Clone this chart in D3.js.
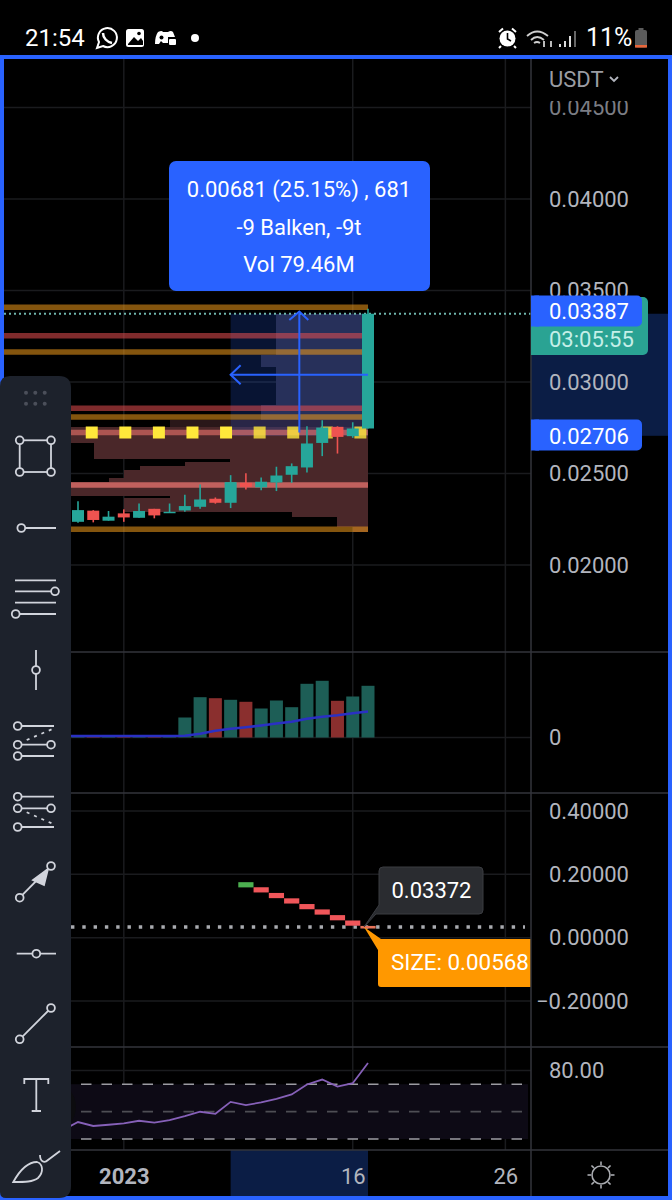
<!DOCTYPE html>
<html><head><meta charset="utf-8">
<script src="https://cdn.jsdelivr.net/npm/d3@7/dist/d3.min.js"></script>
<style>
html,body{margin:0;padding:0;background:#000;}
svg{display:block;font-family:Roboto,sans-serif;}
</style></head><body><svg id="c" width="672" height="1200" viewBox="0 0 672 1200"></svg>
<script>
// ---------- data ----------
const days = d3.range(-2, 18);              // daily bars, day-of-January numbering
const opens  = [.02236,.02297,.02242,.02282,.02258,.02307,.02284,.02298,.02318,.02362,.02340,.02449,.02424,.02451,.02493,.02533,.02667,.02755,.02704,.02746];
const closes = [.02300,.02246,.02264,.02260,.02295,.02271,.02291,.02322,.02358,.02340,.02453,.02427,.02455,.02489,.02540,.02664,.02751,.02700,.02746,.03373];
const highs  = [.02349,.02300,.02295,.02304,.02336,.02307,.02336,.02384,.02440,.02369,.02491,.02502,.02478,.02537,.02555,.02758,.02791,.02758,.02780,.03400];
const lows   = [.02231,.02233,.02242,.02236,.02258,.02255,.02284,.02291,.02307,.02335,.02311,.02413,.02409,.02404,.02449,.02506,.02595,.02609,.02695,.02746];
const volumes= [.6,.6,.6,.6,.6,.6,.6,20,40.3,39.3,37.7,35.7,29,37,30.3,53.7,56.7,36.7,41,51.7];
const volMA  = [1.5,1.5,1.5,1.5,1.5,1.5,1.5,1.7,3.7,6.7,8.7,10.3,12,14,15.7,18.7,20.7,22.3,24.3,26];
const rsi    = [42.4,39.5,40.4,41.4,43.3,41.9,43.8,46.7,49.9,48.4,57.1,54.7,56.7,59.3,62.5,69.8,73.4,68.3,70.7,85.5];
const lineDays = d3.range(-3, 18);          // indicator lines also run in from the previous bar
const volMAPrev = 1.5, rsiPrev = 36.5;
const stepDays = [9,10,11,12,13,14,15,16,17];
const stepVals = [.167,.151,.133,.116,.098,.081,.063,.046,.033];
const priceTicks = [.045,.04,.035,.03,.025,.02];
const volTicks = [0];
const oscTicks = [.4,.2,0,-.2];
const rsiTicks = [80];
const rsiBands = [70,50,30];
const timeTicks = [1,16,26];
const timeLabels = ["2023","16","26"];
const yellowDays = [-1.1,1.1,3.3,5.5,7.7,9.9,12.1,14.3,16.5];
const yellowPrice = .02724;
const levels = [.03408,.03253,.03164,.02857,.02809,.02724,.02437,.02195];
const levelKinds = ["o","r","o","r","o","m","b","o"];
const profHi = [.03373,.03146,.03082,.02873,.02791,.02755,.02664,.02577,.02562,.02540,.02518,.02473,.02455,.02377,.02364,.02291,.02264,.02209];
const profLo = [.03146,.03082,.02873,.02791,.02755,.02664,.02577,.02562,.02540,.02518,.02473,.02455,.02377,.02364,.02291,.02264,.02209,.02180];
const profVol= [30.7,35.7,30.7,35.7,66,100,91.5,46,61,76,81.5,86.5,100,66,81.5,25.5,10.2,5];
const posTop = .03373, posBottom = .02706, posMid = .03040, posStartDay = 8;
const lastDay = 17;
const midDay = 12.5;

// ---------- scales ----------
const svg = d3.select("#c");
const PANE_R = 531;
const x = d3.scaleLinear().domain([-2,17]).range([78,368]);
const yP = d3.scaleLinear().domain([.02,.045]).range([565,107.5]);
const yV = d3.scaleLinear().domain([0,100]).range([737.5,637.5]);
const yO = d3.scaleLinear().domain([-.2,.4]).range([1001,811]);
const yR = d3.scaleLinear().domain([30,80]).range([1139,1070.5]);
const xProf = d3.scaleLinear().domain([0,100]).range([368,68]);

const UP="#26a69a", DN="#ef5350", BLUE="#2962ff", GRID="#1a1b1e", SEP="#33353b", TXT="#b2b5be";

// ---------- grid ----------
const grid = svg.append("g");
function hgrid(vals, s, x2=PANE_R){
  grid.selectAll(null).data(vals).join("line").attr("x1",4).attr("x2",x2)
    .attr("y1",d=>s(d)).attr("y2",d=>s(d)).attr("stroke",GRID).attr("stroke-width",1.5);
}
hgrid(priceTicks,yP); hgrid(volTicks,yV); hgrid(oscTicks,yO); hgrid(rsiTicks,yR);
grid.selectAll(null).data(timeTicks).join("line")
  .attr("x1",d=>x(d)).attr("x2",d=>x(d)).attr("y1",59).attr("y2",1150)
  .attr("stroke",GRID).attr("stroke-width",1.5);

// ---------- axis-side highlight bands ----------
svg.append("rect").attr("x",PANE_R).attr("width",138).attr("y",yP(posTop)).attr("height",yP(.02706)-yP(posTop)).attr("fill","#0b1d45");
svg.append("rect").attr("x",x(posStartDay)).attr("width",x(lastDay)-x(posStartDay)).attr("y",1150).attr("height",47).attr("fill","#0b1d45");

// ---------- volume profile ----------
svg.append("g").attr("shape-rendering","crispEdges").selectAll("rect").data(profVol).join("rect")
  .attr("x",d=>xProf(d)).attr("width",d=>368-xProf(d))
  .attr("y",(d,i)=>yP(profHi[i])).attr("height",(d,i)=>yP(profLo[i])-yP(profHi[i]))
  .attr("fill",(d,i)=> i<4 ? "#272331" : i==4 ? "#2a1719" : "#4a2729");

// ---------- position tool ----------
svg.append("rect").attr("x",x(posStartDay)).attr("width",x(lastDay)-x(posStartDay))
  .attr("y",yP(posTop)).attr("height",yP(.02706)-yP(posTop)).attr("fill",BLUE).attr("fill-opacity",.2);

// ---------- horizontal levels ----------
const levelCol = {o:"#f09a1a",r:"#e84f50",m:"#fd7c73",b:"#ff7f7a"};
const levelOp = {o:.55,r:.55,m:.55,b:.65};
svg.append("g").selectAll("line").data(levels).join("line")
  .attr("x1",4).attr("x2",368).attr("y1",d=>yP(d)).attr("y2",d=>yP(d))
  .attr("stroke",(d,i)=>levelCol[levelKinds[i]]).attr("stroke-opacity",(d,i)=>levelOp[levelKinds[i]]).attr("stroke-width",5.5);

// ---------- yellow markers ----------
svg.append("g").selectAll("rect").data(yellowDays).join("rect")
  .attr("x",d=>x(d)-6).attr("width",12).attr("y",yP(yellowPrice)-6).attr("height",12)
  .attr("fill","#ffe83b").attr("fill-opacity",d=>d>=posStartDay?.8:1);

// ---------- price line ----------
svg.append("line").attr("x1",4).attr("x2",PANE_R).attr("y1",yP(posTop)).attr("y2",yP(posTop))
  .attr("stroke","#6fb5ac").attr("stroke-width",2).attr("stroke-dasharray","2 3");

// ---------- candles ----------
const cg = svg.append("g");
cg.selectAll("line").data(days).join("line")
  .attr("x1",d=>x(d)).attr("x2",d=>x(d))
  .attr("y1",(d,i)=>yP(highs[i])).attr("y2",(d,i)=>yP(lows[i]))
  .attr("stroke",(d,i)=>closes[i]>=opens[i]?UP:DN).attr("stroke-width",1.6);
cg.selectAll("rect").data(days).join("rect")
  .attr("x",d=>x(d)-6).attr("width",12)
  .attr("y",(d,i)=>yP(Math.max(opens[i],closes[i])))
  .attr("height",(d,i)=>Math.max(1.5,Math.abs(yP(opens[i])-yP(closes[i]))))
  .attr("fill",(d,i)=>closes[i]>=opens[i]?UP:DN);

// ---------- position arrows ----------
const ax = x(midDay), ay = yP(posMid);
const ag = svg.append("g").attr("stroke",BLUE).attr("fill","none").attr("stroke-width",2);
ag.append("path").attr("d",d3.line()([[ax,yP(.02724)],[ax,yP(.03385)]]));
ag.append("path").attr("d",d3.line()([[ax-10,yP(.03385)+8.5],[ax,yP(.03385)],[ax+9,yP(.03385)+8.5]]));
ag.append("path").attr("d",d3.line()([[x(lastDay),ay],[x(posStartDay),ay]]));
ag.append("path").attr("d",d3.line()([[x(posStartDay)+10,ay-9.5],[x(posStartDay),ay],[x(posStartDay)+10,ay+9.5]]));

// ---------- tooltip ----------
svg.append("rect").attr("x",169).attr("y",161).attr("width",261).attr("height",130).attr("rx",7).attr("fill",BLUE);
const tipLines = ["0.00681 (25.15%) , 681","-9 Balken, -9t","Vol 79.46M"];
svg.append("g").selectAll("text").data(tipLines).join("text")
  .attr("x",299).attr("y",(d,i)=>197+i*37.5).attr("text-anchor","middle")
  .attr("fill","#fff").attr("font-size",22).text(d=>d);

// ---------- volume pane ----------
svg.append("g").selectAll("rect").data(days).join("rect")
  .attr("x",d=>x(d)-6.5).attr("width",13)
  .attr("y",(d,i)=>yV(volumes[i])).attr("height",(d,i)=>yV(0)-yV(volumes[i]))
  .attr("fill",(d,i)=>closes[i]>=opens[i]?"#1d5e56":"#8a2f2e");
svg.append("path").datum(lineDays)
  .attr("d",d3.line().x(d=>x(d)).y((d,i)=>yV(i==0?volMAPrev:volMA[i-1])))
  .attr("fill","none").attr("stroke","#2a30c4").attr("stroke-width",2.6);

// ---------- oscillator pane ----------
svg.append("line").attr("x1",71).attr("x2",525).attr("y1",927).attr("y2",927)
  .attr("stroke","#a9abb0").attr("stroke-width",3.4).attr("stroke-dasharray","3.4 7.9");
svg.append("g").selectAll("rect").data(stepDays).join("rect")
  .attr("x",d=>x(d)-7.6).attr("width",15.2)
  .attr("y",(d,i)=>yO(stepVals[i])-(i==8?1.3:2.6)).attr("height",(d,i)=>i==8?2.6:5.2)
  .attr("fill",(d,i)=>i==0?"#4caf50":(i==8?"#e8745a":"#f0565a"));

// dark callout
svg.append("path").attr("d","M364,927 L379,905 L379,871 Q379,867 383,867 L479,867 Q483,867 483,871 L483,910 Q483,914 479,914 L383,914 L376,914 Z")
  .attr("fill","#2a2c30").attr("stroke","#3a3c41").attr("stroke-width",1);
svg.append("text").attr("x",431.5).attr("y",898).attr("text-anchor","middle").attr("fill","#fff").attr("font-size",22).text("0.03372");
// orange callout
svg.append("path").attr("d","M364,927 L378,950 L378,984 Q378,987 381,987 L531,987 L531,939 L381,939 Z").attr("fill","#ff9800");
svg.append("text").attr("x",391).attr("y",970).attr("fill","#fff").attr("font-size",22.4).text("SIZE: 0.00568");

// ---------- RSI pane ----------
svg.append("rect").attr("x",71).attr("width",457).attr("y",yR(70)).attr("height",yR(30)-yR(70)).attr("fill","#0d0a15");
svg.append("g").selectAll("line").data(rsiBands).join("line")
  .attr("x1",81).attr("x2",526).attr("y1",d=>yR(d)).attr("y2",d=>yR(d))
  .attr("stroke",d=>d==50?"#4e4e54":"#9c9ca2").attr("stroke-width",1.6).attr("stroke-dasharray","10.5 10");
svg.append("path").datum(lineDays)
  .attr("d",d3.line().x(d=>x(d)).y((d,i)=>yR(i==0?rsiPrev:rsi[i-1])))
  .attr("fill","none").attr("stroke","#8660b8").attr("stroke-width",1.8);

// ---------- separators ----------
const seps=[652,793,1047,1150];
svg.append("g").selectAll("line").data(seps).join("line")
  .attr("x1",4).attr("x2",669).attr("y1",d=>d).attr("y2",d=>d).attr("stroke",SEP).attr("stroke-width",1.5);
svg.append("line").attr("x1",PANE_R).attr("x2",PANE_R).attr("y1",59).attr("y2",1197).attr("stroke",SEP).attr("stroke-width",1.5);

// ---------- right axes ----------
function yaxis(scale,ticks,fmt){
  const g = svg.append("g").attr("transform",`translate(${PANE_R},0)`)
    .call(d3.axisRight(scale).tickValues(ticks).tickFormat(fmt).tickSize(0).tickPadding(18));
  g.select(".domain").remove();
  g.selectAll("text").attr("font-family","Roboto,sans-serif").attr("font-size",22).attr("fill",TXT);
  return g;
}
const pAxis = yaxis(yP,priceTicks,d3.format(".5f"));
pAxis.selectAll(".tick").filter(d=>d==.045).select("text").attr("fill","#7b7d84");
svg.append("rect").attr("x",533).attr("y",59).attr("width",135).attr("height",42).attr("fill","#000");
yaxis(yV,volTicks,d3.format("d"));
const oAxis = yaxis(yO,oscTicks,d=>d3.format(".5f")(d).replace("-","\u2212"));
oAxis.selectAll(".tick").filter(d=>d<0).select("text").attr("x",5);
yaxis(yR,rsiTicks,d3.format(".2f"));
svg.append("text").attr("x",549).attr("y",87).attr("fill","#9a9ca3").attr("font-size",22).text("USDT");
svg.append("path").attr("d","M610,77 L614,81 L618,77").attr("fill","none").attr("stroke","#b2b5be").attr("stroke-width",1.8);

// price labels
function pl(y0,h,w,col,rx){svg.append("rect").attr("x",531).attr("y",y0).attr("width",w).attr("height",h).attr("rx",rx).attr("fill",col);
  svg.append("rect").attr("x",531).attr("y",y0).attr("width",8).attr("height",h).attr("fill",col);}
pl(297,58,117,"#2aa393",5);
svg.append("text").attr("x",549).attr("y",347).attr("fill","#c5efe8").attr("font-size",22).text("03:05:55");
pl(295.5,31,111,BLUE,5);
svg.append("text").attr("x",549).attr("y",319).attr("fill","#fff").attr("font-size",22).text("0.03387");
pl(419.5,31,111,BLUE,5);
svg.append("text").attr("x",549).attr("y",444).attr("fill","#fff").attr("font-size",22).text("0.02706");

// ---------- time axis ----------
const tAxis = svg.append("g").attr("transform","translate(0,1150)")
  .call(d3.axisBottom(x).tickValues(timeTicks).tickFormat((d,i)=>timeLabels[i]).tickSize(0).tickPadding(18));
tAxis.select(".domain").remove();
tAxis.selectAll("text").attr("font-family","Roboto,sans-serif").attr("font-size",22).attr("fill",TXT)
  .attr("font-weight",(d,i)=>i==0?700:400);

// sun icon
const sun = svg.append("g").attr("transform","translate(601,1175)").attr("stroke","#a9abb0").attr("fill","none").attr("stroke-width",1.6);
sun.append("circle").attr("r",9);
d3.range(8).forEach(i=>{const a=i*Math.PI/4;sun.append("line").attr("x1",Math.cos(a)*10).attr("y1",Math.sin(a)*10).attr("x2",Math.cos(a)*13.5).attr("y2",Math.sin(a)*13.5);});

// ---------- frame ----------
svg.append("path").attr("fill","none").attr("stroke",BLUE).attr("stroke-width",4)
  .attr("d","M2,1198 L2,57 L670,57 L670,1198 Z");

// ---------- faint hidden button & toolbar ----------
svg.append("circle").attr("cx",50).attr("cy",1107).attr("r",26).attr("fill","#0c0c0f");
svg.append("path").attr("d","M0,386 Q0,376 10,376 L59,376 Q71,376 71,388 L71,1186 Q71,1198 59,1198 L6,1198 Q0,1198 0,1192 Z").attr("fill","#1d222c");
const dotsX=[26,35.3,44.7], dotsY=[392.7,403.7];
dotsY.forEach(yy=>dotsX.forEach(xx=>svg.append("circle").attr("cx",xx).attr("cy",yy).attr("r",2).attr("fill","#4b4f5a")));
const ic = svg.append("g").attr("stroke","#d1d4dc").attr("fill","none").attr("stroke-width",1.8);
const seg=(a,b,c,d)=>ic.append("line").attr("x1",a).attr("y1",b).attr("x2",c).attr("y2",d);
const dot=(a,b)=>ic.append("circle").attr("cx",a).attr("cy",b).attr("r",3.9).attr("fill","#1d222c");
// rectangle
ic.append("rect").attr("x",19.7).attr("y",440.3).attr("width",31.3).attr("height",31.7);
[[19.7,440.3],[51,440.3],[19.7,472],[51,472]].forEach(p=>dot(...p));
// ray
seg(21.3,528,56,528); dot(21.3,528);
// fib lines
[580.3,591.3,602.7,614].forEach(v=>seg(15,v,56,v)); dot(55,591.3); dot(15.7,614);
// vertical
seg(36,650,36,690); dot(36,670);
// channel 1
[726,744.7,756].forEach(v=>seg(17.7,v,54,v));
ic.append("line").attr("x1",26.7).attr("y1",740).attr("x2",51.7).attr("y2",729.3).attr("stroke-dasharray","3 5");
dot(17.7,726);dot(17.7,744.7);dot(51,744.7);dot(17.7,756);
// channel 2
[796.7,808.3,827].forEach(v=>seg(17.7,v,54,v));
ic.append("line").attr("x1",26.7).attr("y1",812.3).attr("x2",51.7).attr("y2",823.3).attr("stroke-dasharray","3 5");
dot(17.7,796.7);dot(17.7,808.3);dot(51,808.3);dot(17.7,827);
// arrow
seg(19.7,897.7,51,866);
ic.append("path").attr("d","M48,869 L33,880 L44,885 Z").attr("fill","#d1d4dc");
dot(19.7,897.7);dot(51,866);
// horizontal
seg(16.7,953.7,56,953.7); dot(36.3,953.7);
// trend
seg(19.7,1039.3,51,1008); dot(19.7,1039.3); dot(51,1008);
// T
ic.append("path").attr("d","M24.3,1084 L24.3,1079 L48.3,1079 L48.3,1084 M36.3,1079 L36.3,1111 M31.7,1111 L41,1111");
// brush
ic.append("path").attr("d","M13.3,1182 C20,1170 28,1162 37,1162 C43,1164 44,1172 38,1178 C33,1182 25,1182 13.3,1182 Z");
ic.append("path").attr("d","M40,1155 C40,1161 44,1164 48,1160 L60,1151");

// ---------- status bar ----------
const st = svg.append("g").attr("fill","#fff");
st.append("text").attr("x",25).attr("y",46).attr("font-size",24).text("21:54");
st.append("text").attr("x",586).attr("y",46).attr("font-size",25).text("11%");
// whatsapp
const sb = svg.append("g").attr("stroke","#fff").attr("fill","none").attr("stroke-width",2);
sb.append("path").attr("d","M97,48 L99,42 A9.5,9.5 0 1 1 103,46 Z");
sb.append("path").attr("d","M103,33 C103,38 107,42 112,43").attr("stroke-width",2.5);
// gallery
svg.append("rect").attr("x",126).attr("y",29).attr("width",18).attr("height",18).attr("rx",2.5).attr("fill","#fff");
svg.append("path").attr("d","M128,44 L134,37 L138,41 L141,38 L143,41 L143,45 L128,45 Z").attr("fill","#000");
svg.append("circle").attr("cx",139).attr("cy",33.5).attr("r",1.8).attr("fill","#000");
// discord
svg.append("path").attr("d","M155,44 Q155,36 158,32 Q162,30 163,32 L168,32 Q171,30 173,32 L175,37 L168,37 L168,43 L163,43 L161,41 L159,44 Z").attr("fill","#fff");
svg.append("circle").attr("cx",161.5).attr("cy",37.5).attr("r",2).attr("fill","#000");
svg.append("rect").attr("x",169).attr("y",39).attr("width",7).attr("height",6).attr("rx",1).attr("fill","#fff");
svg.append("circle").attr("cx",195).attr("cy",38).attr("r",4).attr("fill","#fff");
// alarm
svg.append("circle").attr("cx",507.5).attr("cy",38.5).attr("r",8).attr("fill","#fff");
svg.append("path").attr("d","M507.5,33 L507.5,39 L511,41").attr("stroke","#000").attr("stroke-width",1.6).attr("fill","none");
svg.append("path").attr("d","M499,32 L503,28.5 M516,32 L512,28.5 M501,46 L499,48 M514,46 L516,48").attr("stroke","#fff").attr("stroke-width",2);
// wifi
const wf = svg.append("g").attr("stroke","#cfcfcf").attr("fill","none").attr("stroke-width",1.8);
wf.append("path").attr("d","M527,36 Q537,27 548,36 M531,40 Q537,34 544,40 M534,43 Q537,41 540,43");
wf.append("path").attr("d","M544,41 L544,47 M551,47 L551,41");
// signal bars
const sigH=[3,6,11,16];
svg.append("g").selectAll("rect").data(sigH).join("rect")
  .attr("x",(d,i)=>559+i*5).attr("y",d=>47-d).attr("width",2).attr("height",d=>d).attr("fill",(d,i)=>i==3?"#666":"#ddd");
// battery
svg.append("rect").attr("x",635).attr("y",30).attr("width",12).attr("height",17.5).attr("rx",2).attr("fill","#5b5b5b");
svg.append("rect").attr("x",638.5).attr("y",28).attr("width",5).attr("height",3).attr("fill","#5b5b5b");
svg.append("rect").attr("x",635).attr("y",45).attr("width",12).attr("height",2.6).attr("fill","#e8663a");
</script></body></html>
